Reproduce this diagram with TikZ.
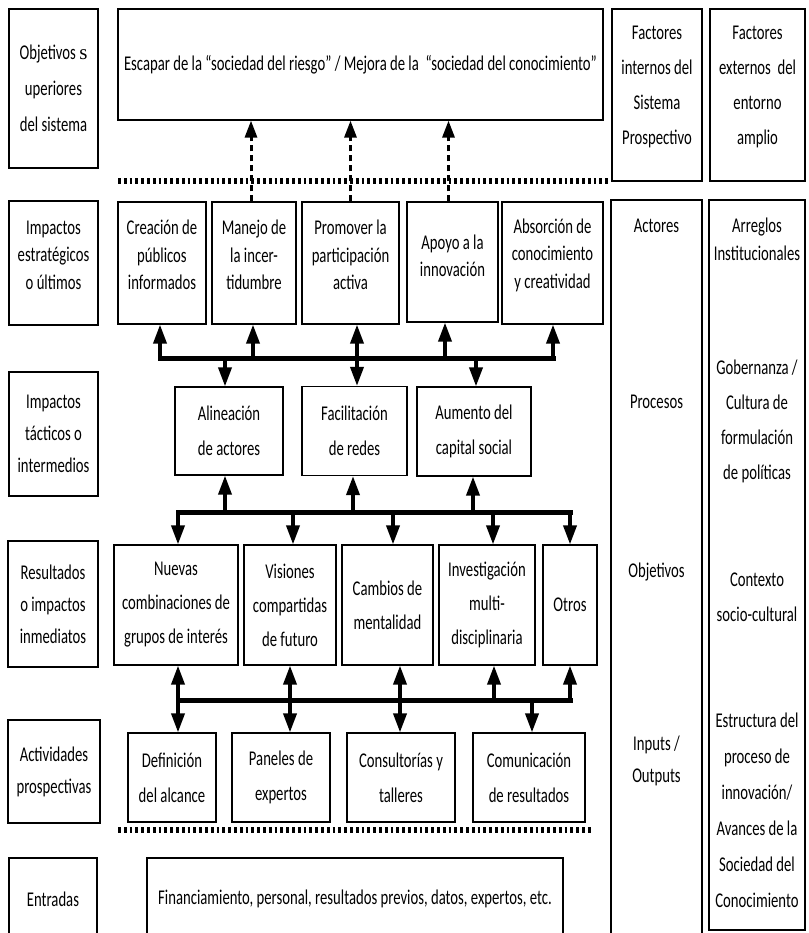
\documentclass[tikz,border=0pt]{standalone}
\usepackage{fontspec}
\setmainfont{Carlito}[FakeStretch=0.70]
\newfontfamily\timesfont{Liberation Serif}
\usetikzlibrary{arrows.meta, positioning, calc}

\tikzset{
  box/.style={draw, line width=1.2pt, align=center, inner sep=0pt, font=\fontsize{21}{32}\selectfont},
  tightbox/.style={box, font=\fontsize{21}{27.5}\selectfont},
  widebox/.style={box, font=\fontsize{21}{35}\selectfont},
  coltext/.style={align=center, inner sep=0pt, font=\fontsize{21}{35}\selectfont},
  tighttext/.style={coltext, font=\fontsize{21}{27.5}\selectfont},
  bus/.style={line width=5pt, line cap=rect},
  stem/.style={line width=3.6pt, -{Triangle[length=19pt,width=13pt]}},
  dstem/.style={line width=3.6pt, {Triangle[length=19pt,width=13pt]}-{Triangle[length=19pt,width=13pt]}},
  dashup/.style={line width=3pt, dash pattern=on 6pt off 4pt, -{Triangle[length=17pt,width=12pt]}},
  sep/.style={line width=6pt, dash pattern=on 2.8pt off 3pt},
}

\begin{document}
\begin{tikzpicture}[x=1pt, y=-1pt]
\path[use as bounding box, fill=white] (0,0) rectangle (808,933);

% row labels on the left
\node[box, font=\fontsize{21}{36}\selectfont, minimum width=89pt, minimum height=159pt] (obj) at (53.5,88.5) {Objetivos~{\timesfont s}\\uperiores\\del sistema};
\node[box, minimum width=89pt, minimum height=124pt] (imest) at (53.5,263) {};
\node[tighttext] (timest) at ([yshift=8pt]imest.center) {Impactos\\estratégicos\\o últimos};
\node[box, minimum width=89pt, minimum height=124pt] (imtac) at (53.5,434) {Impactos\\tácticos o\\intermedios};
\node[box, minimum width=90pt, minimum height=126pt] (result) at (53,604) {Resultados\\o impactos\\inmediatos};
\node[box, minimum width=92pt, minimum height=103pt] (activ) at (54,771.5) {Actividades\\prospectivas};
\node[box, minimum width=88pt, minimum height=82pt] (entr) at (53,899) {Entradas};

% top goal and factor headers
\node[box, minimum width=485pt, minimum height=111pt] (esc) at (360.5,64.5) {Escapar de la “sociedad del riesgo” / Mejora de la\ \ “sociedad del conocimiento”};
\node[box, minimum width=90pt, minimum height=172pt] (fint) at (657,95) {};
\node[box, minimum width=95pt, minimum height=172pt] (fext) at (757.5,95) {};
\node[coltext] (tfint) at (657,87) {Factores\\internos del\\Sistema\\Prospectivo};
\node[coltext] (tfext) at (757.5,87) {Factores\\externos\ \ del\\entorno\\amplio};

% strategic impacts
\node[box, minimum width=88pt, minimum height=122pt] (crea) at (162,263) {};
\node[box, minimum width=84pt, minimum height=122pt] (mane) at (254,263) {};
\node[box, minimum width=97pt, minimum height=122pt] (prom) at (350.5,263) {};
\node[box, minimum width=91pt, minimum height=120pt] (apoy) at (452.5,262) {};
\node[box, minimum width=101pt, minimum height=122pt] (abso) at (552.5,263) {};
\node[tighttext] (tcrea) at ([yshift=8pt]crea.center) {Creación de\\públicos\\informados};
\node[tighttext] (tmane) at ([yshift=8pt]mane.center) {Manejo de\\la incer-\\tidumbre};
\node[tighttext] (tprom) at ([yshift=8pt]prom.center) {Promover la\\participación\\activa};
\node[tighttext] (tapoy) at ([yshift=6pt]apoy.center) {Apoyo a la\\innovación};
\node[tighttext] (tabso) at ([yshift=8pt]abso.center) {Absorción de\\conocimiento\\y creatividad};

% tactical impacts
\node[widebox, minimum width=108pt, minimum height=88pt] (alin) at (229,431) {Alineación\\de actores};
\node[widebox, minimum width=105pt, minimum height=89pt] (faci) at (354.5,431) {Facilitación\\de redes};
\node[widebox, minimum width=114pt, minimum height=89pt] (aume) at (474,431.5) {Aumento del\\capital social};

% immediate results
\node[box, font=\fontsize{21}{34}\selectfont, minimum width=124pt, minimum height=120pt] (nuev) at (176,605) {Nuevas\\combinaciones de\\grupos de interés};
\node[box, font=\fontsize{21}{34}\selectfont, minimum width=92pt, minimum height=120pt] (visi) at (290,605) {Visiones\\compartidas\\de futuro};
\node[box, font=\fontsize{21}{34}\selectfont, minimum width=91pt, minimum height=120pt] (camb) at (387.5,605) {Cambios de\\mentalidad};
\node[box, font=\fontsize{21}{34}\selectfont, minimum width=96pt, minimum height=120pt] (inve) at (487,605) {Investigación\\multi-\\disciplinaria};
\node[box, minimum width=54pt, minimum height=120pt] (otro) at (570,605) {Otros};

% foresight activities
\node[widebox, minimum width=88pt, minimum height=89pt] (defi) at (172,777.5) {Definición\\del alcance};
\node[widebox, minimum width=98pt, minimum height=89pt] (pane) at (281,777.5) {Paneles de\\expertos};
\node[widebox, minimum width=108pt, minimum height=89pt] (cons) at (401,777.5) {Consultorías y\\talleres};
\node[widebox, minimum width=112pt, minimum height=89pt] (comu) at (529,777.5) {Comunicación\\de resultados};

% inputs
\node[box, minimum width=416pt, minimum height=82pt] (fina) at (355,899) {Financiamiento, personal, resultados previos, datos, expertos, etc.};

% factor columns
\node[box, minimum width=91pt, minimum height=745pt] (acto) at (656.5,572.5) {};
\node[box, minimum width=96pt, minimum height=730pt] (arre) at (757,565) {};
\node[coltext] (tacto) at (656.5,226) {Actores};
\node[coltext] (tproc) at (656.5,402) {Procesos};
\node[coltext] (tobje) at (656.5,572) {Objetivos};
\node[coltext, font=\fontsize{21}{32}\selectfont] (tinpu) at (656.5,761) {Inputs /\\Outputs};
\node[coltext, font=\fontsize{21}{28}\selectfont] (tarre) at (757,239) {Arreglos\\Institucionales};
\node[coltext] (tgobe) at (757,421) {Gobernanza /\\Cultura de\\formulación\\de políticas};
\node[coltext] (tcont) at (757,597) {Contexto\\socio-cultural};
\node[coltext, font=\fontsize{21}{36}\selectfont] (testr) at (757,810) {Estructura del\\proceso de\\innovación/\\Avances de la\\Sociedad del\\Conocimiento};

% separators
\coordinate (s1a) at (118,181);
\coordinate (s1b) at (608,181);
\coordinate (s2a) at (118,830);
\coordinate (s2b) at (592,830);
\draw[sep] (s1a) -- (s1b);
\draw[sep] (s2a) -- (s2b);

% dashed links to the top goal
\draw[dashup] ([xshift=-3pt]mane.north) -- ([xshift=-3pt]mane.north |- esc.south);
\draw[dashup] (prom.north) -- (prom.north |- esc.south);
\draw[dashup] ([xshift=-4pt]apoy.north) -- ([xshift=-4pt]apoy.north |- esc.south);

% bus 1
\coordinate (b1crea) at (160,358);
\coordinate (b1alin) at (225,358);
\coordinate (b1mane) at (253,358);
\coordinate (b1prom) at (357,358);
\coordinate (b1apoy) at (445,358);
\coordinate (b1aume) at (476,358);
\coordinate (b1abso) at (553,358);
\draw[bus] (b1crea) -- (b1abso);
\foreach \c/\n in {b1crea/crea, b1mane/mane, b1prom/prom, b1apoy/apoy, b1abso/abso}
  \draw[stem] (\c) -- (\c |- \n.south);
\foreach \c/\n in {b1alin/alin, b1prom/faci, b1aume/aume}
  \draw[stem] (\c) -- (\c |- \n.north);

% bus 2
\coordinate (b2nuev) at (178,512);
\coordinate (b2alin) at (225,512);
\coordinate (b2visi) at (293,512);
\coordinate (b2faci) at (353,512);
\coordinate (b2camb) at (393,512);
\coordinate (b2aume) at (473,512);
\coordinate (b2inve) at (493,512);
\coordinate (b2otro) at (570,512);
\draw[bus] (b2nuev) -- (b2otro);
\foreach \c/\n in {b2alin/alin, b2faci/faci, b2aume/aume}
  \draw[stem] (\c) -- (\c |- \n.south);
\foreach \c/\n in {b2nuev/nuev, b2visi/visi, b2camb/camb, b2inve/inve, b2otro/otro}
  \draw[stem] (\c) -- (\c |- \n.north);

% bus 3
\coordinate (b3nuev) at (178,700);
\coordinate (b3visi) at (290,700);
\coordinate (b3camb) at (400,700);
\coordinate (b3inve) at (494,700);
\coordinate (b3comu) at (532,700);
\coordinate (b3otro) at (570,700);
\draw[bus] (b3nuev) -- (b3otro);
\foreach \c/\n/\m in {b3nuev/nuev/defi, b3visi/visi/pane, b3camb/camb/cons}
  \draw[dstem] (\c |- \n.south) -- (\c |- \m.north);
\foreach \c/\n in {b3inve/inve, b3otro/otro}
  \draw[stem] (\c) -- (\c |- \n.south);
\draw[stem] (b3comu) -- (b3comu |- comu.north);
\end{tikzpicture}
\end{document}
